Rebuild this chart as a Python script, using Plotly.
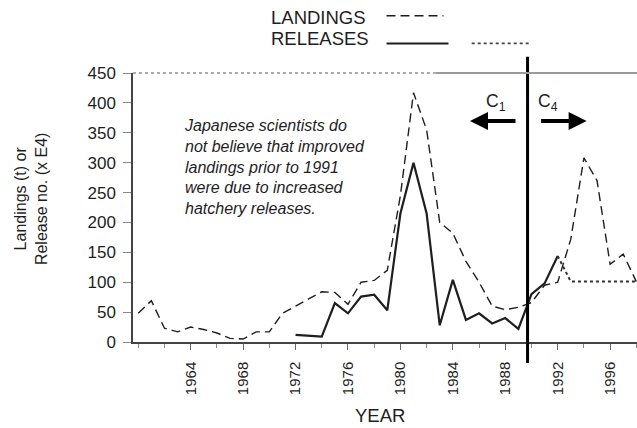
import plotly.graph_objects as go

# Landings (t), 1960-1998
years = list(range(1960, 1999))
landings = [48, 69, 23, 17, 25, 21, 15, 6, 5, 17,
            17, 48, 60, 72, 84, 83, 63, 100, 103, 120,
            245, 417, 355, 200, 182, 135, 100, 60, 54, 58,
            66, 95, 100, 172, 308, 270, 130, 147, 101]

# Hatchery releases (x E4), observed and assumed
release_years = list(range(1972, 1993))
releases = [12, 11, 9, 65, 48, 76, 79, 53, 215, 300,
            215, 28, 104, 37, 48, 31, 40, 22, 80, 98, 144]
release_proj_years = list(range(1992, 1999))
releases_proj = [144, 101, 101, 101, 101, 101, 101]

split_year = 1989.7
y_ticks = [0, 50, 100, 150, 200, 250, 300, 350, 400, 450]
x_ticks = [1964, 1968, 1972, 1976, 1980, 1984, 1988, 1992, 1996]

FONT = "Liberation Sans, Arial, sans-serif"
INK = "#1e1e1e"

fig = go.Figure()

fig.add_trace(go.Scatter(x=years, y=landings, mode="lines", name="LANDINGS",
                         line=dict(color=INK, width=1.4, dash="9px,5px")))
fig.add_trace(go.Scatter(x=release_years, y=releases, mode="lines", name="RELEASES",
                         line=dict(color=INK, width=2.2)))
fig.add_trace(go.Scatter(x=release_proj_years, y=releases_proj, mode="lines",
                         name="RELEASES (assumed)",
                         line=dict(color="#333", width=2, dash="dot")))

# thick vertical divider
fig.add_shape(type="line", xref="x", yref="paper", x0=split_year, x1=split_year,
              y0=-0.078, y1=1.06, line=dict(color="black", width=3))

# top border: thin dotted on the left, grey on the right
fig.add_shape(type="line", xref="paper", yref="paper", x0=0, x1=0.6, y0=1, y1=1,
              line=dict(color="#555", width=1, dash="dot"))
fig.add_shape(type="line", xref="paper", yref="paper", x0=0.6, x1=1, y0=1, y1=1,
              line=dict(color="#9a9a9a", width=2))

# legend drawn by hand (text then line key)
fig.add_annotation(xref="paper", yref="paper", x=0.466, y=1.206, text="LANDINGS",
                   showarrow=False, xanchor="right", yanchor="middle",
                   font=dict(family=FONT, size=18.5, color=INK))
fig.add_annotation(xref="paper", yref="paper", x=0.472, y=1.127, text="RELEASES",
                   showarrow=False, xanchor="right", yanchor="middle",
                   font=dict(family=FONT, size=18.5, color=INK))
fig.add_shape(type="line", xref="paper", yref="paper", x0=0.503, x1=0.616,
              y0=1.213, y1=1.213, line=dict(color=INK, width=1.4, dash="9px,5px"))
fig.add_shape(type="line", xref="paper", yref="paper", x0=0.503, x1=0.626,
              y0=1.110, y1=1.110, line=dict(color=INK, width=2))
fig.add_shape(type="line", xref="paper", yref="paper", x0=0.672, x1=0.791,
              y0=1.110, y1=1.110, line=dict(color="#444", width=1.6, dash="dot"))

# note
fig.add_annotation(xref="paper", yref="paper", x=0.097, y=0.649,
                   text="<i>Japanese scientists do<br>not believe that improved<br>"
                        "landings prior to 1991<br>were due to increased<br>"
                        "hatchery releases.</i>",
                   showarrow=False, xanchor="left", yanchor="middle", align="left",
                   font=dict(family=FONT, size=16, color=INK))

# C1 / C4 arrows
fig.add_annotation(xref="paper", yref="paper", x=0.6687, y=0.8216, ax=47, ay=0,
                   text="", showarrow=True, arrowhead=2, arrowsize=0.9,
                   arrowwidth=4, arrowcolor="black")
fig.add_annotation(xref="paper", yref="paper", x=0.900, y=0.8216, ax=-47, ay=0,
                   text="", showarrow=True, arrowhead=2, arrowsize=0.9,
                   arrowwidth=4, arrowcolor="black")
fig.add_annotation(xref="paper", yref="paper", x=0.7435, y=0.94, text="C<sub>1</sub>",
                   showarrow=False, font=dict(family=FONT, size=17.5, color=INK))
fig.add_annotation(xref="paper", yref="paper", x=0.8474, y=0.94, text="C<sub>4</sub>",
                   showarrow=False, font=dict(family=FONT, size=17.5, color=INK))

# axis titles
fig.add_annotation(xref="paper", yref="paper", x=0.49, y=-0.275, text="YEAR",
                   showarrow=False, xanchor="center", yanchor="middle",
                   font=dict(family=FONT, size=18.5, color=INK))
fig.add_annotation(xref="paper", yref="paper", x=-0.202, y=0.532,
                   text="Landings (t) or<br>Release no. (x E4)", textangle=-90,
                   showarrow=False, xanchor="center", yanchor="middle",
                   font=dict(family=FONT, size=16, color=INK))

fig.update_layout(
    width=637, height=428,
    margin=dict(l=133, r=0, t=73, b=86),
    paper_bgcolor="white", plot_bgcolor="white",
    showlegend=False,
    font=dict(family=FONT, color=INK),
)
fig.update_xaxes(range=[1959.6, 1998.05], tickvals=x_ticks, tickangle=-90,
                 ticks="outside", ticklen=6, tickcolor="#666",
                 tickfont=dict(family=FONT, size=15, color=INK),
                 showline=True, linecolor="#444", linewidth=1.5,
                 showgrid=False, zeroline=False, ticklabelstandoff=6,
                 minor=dict(dtick=2, tick0=1960, ticks="outside", ticklen=4,
                            tickcolor="#888", showgrid=False))
fig.update_yaxes(range=[0, 450], tickvals=y_ticks,
                 ticks="outside", ticklen=8, tickcolor="#888",
                 tickfont=dict(family=FONT, size=17, color=INK),
                 showline=True, linecolor="#444", linewidth=1.5,
                 showgrid=False, zeroline=False, ticklabelstandoff=4)

# remove the default page margin so the 637x428 figure fills the window exactly
fig.write_html("out.html", config={"displayModeBar": False},
               post_script="document.body.style.margin='0';")
